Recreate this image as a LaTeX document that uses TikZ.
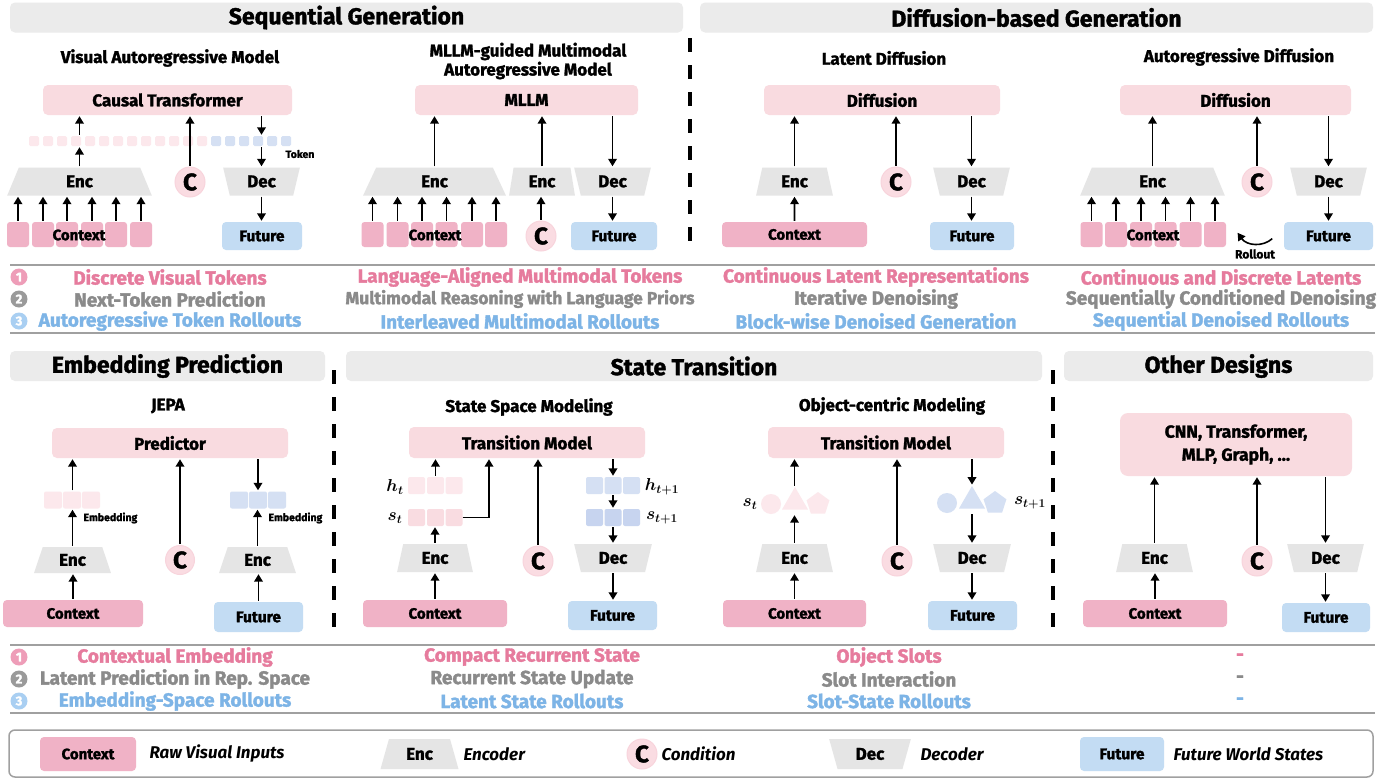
\documentclass[tikz,border=0pt]{standalone}
\usepackage{fontspec}
\setmainfont{Fira Sans}[BoldFeatures={FakeBold=1.6}]
\usetikzlibrary{arrows.meta,shapes.geometric,positioning}
\definecolor{hdrgray}{HTML}{EBEBEB}
\definecolor{modelpink}{HTML}{F9DBE0}
\definecolor{ctxpink}{HTML}{F0B2C6}
\definecolor{futblue}{HTML}{C3DCF3}
\definecolor{encgray}{HTML}{E5E5E5}
\definecolor{cpink}{HTML}{FADCE2}
\definecolor{tokpink}{HTML}{FCE8EC}
\definecolor{tokblue}{HTML}{D5E0F3}
\definecolor{sblue}{HTML}{C7D4EF}
\definecolor{spink}{HTML}{F9DCE1}
\definecolor{txtpink}{HTML}{E67B9D}
\definecolor{txtgray}{HTML}{8A8A8A}
\definecolor{txtblue}{HTML}{7DB4E6}
\definecolor{numpink}{HTML}{EE9DB8}
\definecolor{numgray}{HTML}{9A9A9A}
\definecolor{numblue}{HTML}{A9CFF2}
\definecolor{linegray}{HTML}{A0A0A0}
\begin{document}
\begin{tikzpicture}[x=1pt,y=-1pt,
  arr/.style={-{Triangle[length=7.5pt,width=8.5pt]},line width=1.9pt,shorten <=1pt,shorten >=1pt},
  hdr/.style={fill=hdrgray,rounded corners=5pt,minimum height=30pt,inner sep=0,font=\fontsize{23}{27}\selectfont\bfseries},
  sub/.style={font=\fontsize{17}{19}\selectfont\bfseries,align=center},
  model/.style={fill=modelpink,rounded corners=5pt,minimum height=30pt,inner sep=0,font=\fontsize{17}{20}\selectfont\bfseries},
  ctx/.style={fill=ctxpink,rounded corners=4pt,minimum height=27pt,inner sep=0,font=\fontsize{15}{17}\selectfont\bfseries},
  ctxsq/.style={fill=ctxpink,rounded corners=3pt,minimum width=22pt,minimum height=25pt,inner sep=0},
  fut/.style={fill=futblue,rounded corners=4pt,minimum height=28pt,inner sep=0,font=\fontsize{15.5}{18}\selectfont\bfseries},
  enc/.style={trapezium,trapezium stretches=true,trapezium angle=78,fill=encgray,minimum height=28pt,inner sep=0,font=\fontsize{17}{19}\selectfont\bfseries},
  dec/.style={enc,shape border rotate=180},
  cond/.style={circle,fill=cpink,draw=cpink!80!ctxpink,line width=1pt,minimum size=30pt,inner sep=0,font=\fontsize{24}{26}\selectfont\bfseries},
  tok/.style={fill=#1,rounded corners=1.5pt,minimum size=10pt,inner sep=0},
  emb/.style={fill=#1,rounded corners=2pt,minimum width=18pt,minimum height=17pt,inner sep=0},
  small/.style={font=\fontsize{10.5}{12}\selectfont\bfseries},
  mlab/.style={font=\fontsize{18}{20}\selectfont\boldmath},
  lg/.style={font=\fontsize{19}{21}\selectfont\bfseries},
  num/.style={circle,fill=#1,text=white,minimum size=17pt,inner sep=0,font=\fontsize{13}{14}\selectfont\bfseries},
  itl/.style={anchor=west,font=\fontsize{17}{19}\selectfont\bfseries\itshape},
  sep/.style={linegray,line width=1.5pt},
  vdash/.style={line width=4pt,dash pattern=on 14pt off 13pt}]
\fill[white] (0,0) rectangle (1395,779);
\useasboundingbox (0,0) rectangle (1395,779);

% headers top
\node[hdr,minimum width=673pt] (hseq) at (346.5,17.5) {Sequential Generation};
\node[hdr,minimum width=673pt] (hdif) at (1036.5,17.5) {Diffusion-based Generation};
\draw[vdash] (690,38) -- (690,252);

\node[sub] (s1) at (170,58) {Visual Autoregressive Model};
\node[sub] (s2) at (528,61) {MLLM-guided Multimodal\\Autoregressive Model};
\node[sub] (s3) at (884,58) {Latent Diffusion};
\node[sub] (s4) at (1239,57) {Autoregressive Diffusion};

% visual autoregressive model
\node[model,minimum width=249pt] (ct) at (167.5,100) {Causal Transformer};
\foreach \k in {0,...,18}{
  \ifnum\k<13 \def\tc{tokpink}\else\def\tc{tokblue}\fi
  \node[tok=\tc] (t\k) at (34+14*\k,141) {};
}
\node[small] (tkn) at (300,154) {Token};
\node[enc,minimum width=145pt] (enc1) at (79.5,181.5) {Enc};
\node[cond] (c1) at (190,182) {C};
\node[dec,minimum width=77pt,trapezium angle=76] (dec1) at (261.5,181.5) {Dec};
\foreach \i/\qx in {1/18,2/43,3/67,4/92,5/116,6/141}{
  \node[ctxsq] (qa\i) at (\qx,234.5) {};
  \draw[arr] (qa\i.north) -- (qa\i.north |- enc1.south);
}
\node[font=\fontsize{15}{17}\selectfont\bfseries] (cx1) at (79,235) {Context};
\node[fut,minimum width=80pt] (fu1) at (262,236) {Future};
\draw[arr] (enc1.north) -- (enc1.north |- t3.south);
\draw[arr] (enc1.north |- t3.north) -- (enc1.north |- ct.south);
\draw[arr] (c1.north) -- (c1.north |- ct.south);
\draw[arr] (dec1.north |- ct.south) -- (dec1.north |- t16.north);
\draw[arr] (dec1.north |- t16.south) -- (dec1.north);
\draw[arr] (dec1.south) -- (dec1.south |- fu1.north);

% mllm-guided
\node[model,minimum width=223pt] (mllm) at (526.5,100) {MLLM};
\node[enc,minimum width=143pt,trapezium angle=76] (enc2) at (434.5,181.5) {Enc};
\node[enc,minimum width=66pt,trapezium angle=80] (enc2b) at (542,181.5) {Enc};
\node[dec,minimum width=77pt,trapezium angle=76] (dec2) at (612.5,181.5) {Dec};
\foreach \i/\qx in {1/372.5,2/397.5,3/422,4/446.5,5/472,6/496}{
  \node[ctxsq] (qb\i) at (\qx,234.5) {};
  \draw[arr] (qb\i.north) -- (qb\i.north |- enc2.south);
}
\node[font=\fontsize{15}{17}\selectfont\bfseries] (cx2) at (435,235) {Context};
\node[cond] (c2) at (541,236) {C};
\node[fut,minimum width=86pt] (fu2) at (614,236) {Future};
\draw[arr] (enc2.north) -- (enc2.north |- mllm.south);
\draw[arr] (enc2b.north) -- (enc2b.north |- mllm.south);
\draw[arr] (c2.north) -- (c2.north |- enc2b.south);
\draw[arr] (dec2.north |- mllm.south) -- (dec2.north);
\draw[arr] (dec2.south) -- (dec2.south |- fu2.north);

% latent diffusion
\node[model,minimum width=236pt] (dif3) at (882,100) {Diffusion};
\node[enc,minimum width=77pt] (enc3) at (794.5,181.5) {Enc};
\node[cond] (c3) at (896,182) {C};
\node[dec,minimum width=77pt,trapezium angle=76] (dec3) at (971.5,181.5) {Dec};
\node[ctx,minimum width=145pt,minimum height=25pt] (ctx3) at (794.5,234.5) {Context};
\node[fut,minimum width=84pt] (fu3) at (972,236) {Future};
\draw[arr] (ctx3.north) -- (enc3.south);
\draw[arr] (enc3.north) -- (enc3.north |- dif3.south);
\draw[arr] (c3.north) -- (c3.north |- dif3.south);
\draw[arr] (dec3.north |- dif3.south) -- (dec3.north);
\draw[arr] (dec3.south) -- (dec3.south |- fu3.north);

% autoregressive diffusion
\node[model,minimum width=231pt] (dif4) at (1235.5,100) {Diffusion};
\node[enc,minimum width=145pt] (enc4) at (1152.5,181.5) {Enc};
\node[cond] (c4) at (1257,182) {C};
\node[dec,minimum width=77pt,trapezium angle=76] (dec4) at (1328.5,181.5) {Dec};
\foreach \i/\qx in {1/1091.5,2/1116,3/1141,4/1165.5,5/1190.5,6/1215}{
  \node[ctxsq] (qd\i) at (\qx,234.5) {};
  \draw[arr] (qd\i.north) -- (qd\i.north |- enc4.south);
}
\node[font=\fontsize{15}{17}\selectfont\bfseries] (cx4) at (1153,235) {Context};
\node[fut,minimum width=89pt] (fu4) at (1328.5,236) {Future};
\draw[arr] (enc4.north) -- (enc4.north |- dif4.south);
\draw[arr] (c4.north) -- (c4.north |- dif4.south);
\draw[arr] (dec4.north |- dif4.south) -- (dec4.north);
\draw[arr] (dec4.south) -- (dec4.south |- fu4.north);
\coordinate (ra) at (1273,238);
\coordinate (rb) at (1237,232);
\draw[arr,line width=1.6pt] (ra) .. controls (1263,247) and (1247,246) .. (rb);
\node[font=\fontsize{12}{13}\selectfont\bfseries] (rlt) at (1255,254) {Rollout};

% legend top
\draw[sep] (10,265) -- (1375,265);
\draw[sep] (10,333) -- (1375,333);
\foreach \n/\cc/\yy in {1/numpink/277,2/numgray/299,3/numblue/321}
  \node[num=\cc] (na\n) at (19,\yy) {\n};
\foreach \cx/\ta/\tb/\tc [count=\j] in {170/Discrete Visual Tokens/Next-Token Prediction/Autoregressive Token Rollouts,
    520/Language-Aligned Multimodal Tokens/{\fontsize{17.5}{20}\selectfont Multimodal Reasoning with Language Priors}/Interleaved Multimodal Rollouts,
    876/Continuous Latent Representations/Iterative Denoising/Block-wise Denoised Generation,
    1221/Continuous and Discrete Latents/Sequentially Conditioned Denoising/Sequential Denoised Rollouts}{
  \node[lg,text=txtpink] (la\j) at (\cx,277) {\ta};
  \node[lg,text=txtgray] (lb\j) at (\cx,299) {\tb};
  \node[lg,text=txtblue] (lc\j) at (\cx,321) {\tc};
}

% headers bottom
\node[hdr,minimum width=315pt] (hemb) at (167.5,366) {Embedding Prediction};
\node[hdr,minimum width=696pt] (hst) at (694,366) {State Transition};
\node[hdr,minimum width=309pt] (hoth) at (1218.5,366) {Other Designs};
\draw[vdash] (334,370) -- (334,632);
\draw[vdash] (1053,370) -- (1053,632);

\node[sub] (s5) at (168,406) {JEPA};
\node[sub] (s6) at (529,407) {State Space Modeling};
\node[sub] (s7) at (892,406) {Object-centric Modeling};

% jepa
\node[model,minimum width=236pt] (pred) at (170,443) {Predictor};
\node[enc,minimum width=77pt,minimum height=26pt,trapezium angle=72] (enc5) at (72.5,560) {Enc};
\node[enc,minimum width=77pt,minimum height=26pt,trapezium angle=72] (enc5b) at (257.5,560) {Enc};
\node[cond,minimum size=29pt] (c5) at (180,560) {C};
\foreach \i/\ex in {1/53,2/72,3/91}
  \node[emb=tokpink] (ea\i) at (\ex,500) {};
\foreach \i/\ex in {1/239,2/258,3/277}
  \node[emb=tokblue] (eb\i) at (\ex,500) {};
\node[small,anchor=west] (le1) at (80,518) {Embedding};
\node[small,anchor=west] (le2) at (265,518) {Embedding};
\node[ctx,minimum width=140pt] (ctx5) at (73,613.5) {Context};
\node[fut,minimum width=89pt,minimum height=30pt] (fu5) at (258.5,617) {Future};
\draw[arr] (ctx5.north) -- (ctx5.north |- enc5.south);
\draw[arr] (enc5.north) -- (enc5.north |- ea2.south);
\draw[arr] (enc5.north |- ea2.north) -- (enc5.north |- pred.south);
\draw[arr] (c5.north) -- (c5.north |- pred.south);
\draw[arr] (eb2.north |- pred.south) -- (eb2.north);
\draw[arr] (enc5b.north) -- (enc5b.north |- eb2.south);
\draw[arr] (fu5.north) -- (fu5.north |- enc5b.south);

% state space modeling
\node[model,minimum width=236pt,minimum height=31pt] (tm6) at (527,442.5) {Transition Model};
\foreach \i/\ex in {1/416.5,2/435.5,3/454}{
  \node[emb=tokpink,minimum width=17pt] (ha\i) at (\ex,485.5) {};
  \node[emb=spink,minimum width=17pt] (sa\i) at (\ex,517.5) {};
}
\foreach \i/\ex in {1/594.5,2/613,3/631.5}{
  \node[emb=tokblue,minimum width=17pt] (hb\i) at (\ex,485.5) {};
  \node[emb=sblue,minimum width=17pt] (sb\i) at (\ex,517.5) {};
}
\node[mlab] (lh1) at (395,487) {$h_t$};
\node[mlab] (ls1) at (395,518) {$s_t$};
\node[mlab] (lh2) at (662,487) {$h_{t+1}$};
\node[mlab] (ls2) at (662,518) {$s_{t+1}$};
\node[enc,minimum width=76pt] (enc6) at (435,558) {Enc};
\node[cond] (c6) at (538,561) {C};
\node[dec,minimum width=78pt,trapezium angle=76] (dec6) at (613,558) {Dec};
\node[ctx,minimum width=144pt] (ctx6) at (435,613.5) {Context};
\node[fut,minimum width=89pt,minimum height=29pt] (fu6) at (612.5,615.5) {Future};
\draw[arr] (ctx6.north) -- (ctx6.north |- enc6.south);
\draw[arr] (enc6.north) -- (enc6.north |- sa2.south);
\draw[arr] (ha2.north) -- (ha2.north |- tm6.south);
\draw[arr,shorten <=0pt] (sa3.east) -| ([xshift=-38pt]tm6.south);
\draw[arr] (c6.north) -- (c6.north |- tm6.south);
\draw[arr] (hb2.north |- tm6.south) -- (hb2.north);
\draw[arr] (hb2.south) -- (sb2.north);
\draw[arr] (sb2.south) -- (sb2.south |- dec6.north);
\draw[arr] (dec6.south) -- (dec6.south |- fu6.north);

% object-centric modeling
\node[model,minimum width=236pt,minimum height=31pt] (tm7) at (886,442.5) {Transition Model};
\node[circle,fill=tokpink,minimum size=20pt,inner sep=0] (oa1) at (771,504) {};
\node[regular polygon,regular polygon sides=3,fill=tokpink,minimum size=30pt,inner sep=0] (oa2) at (795,502) {};
\node[regular polygon,regular polygon sides=5,fill=tokpink,minimum size=24pt,inner sep=0] (oa3) at (818,504) {};
\node[circle,fill=tokblue,minimum size=20pt,inner sep=0] (ob1) at (947,503) {};
\node[regular polygon,regular polygon sides=3,fill=tokblue,minimum size=30pt,inner sep=0] (ob2) at (972,501) {};
\node[regular polygon,regular polygon sides=5,fill=tokblue,minimum size=24pt,inner sep=0] (ob3) at (995,503) {};
\node[mlab] (ls3) at (750,504) {$s_t$};
\node[mlab] (ls4) at (1030,503) {$s_{t+1}$};
\node[enc,minimum width=77pt] (enc7) at (794.5,558) {Enc};
\node[cond] (c7) at (897,561) {C};
\node[dec,minimum width=78pt,trapezium angle=76] (dec7) at (972,558) {Dec};
\node[ctx,minimum width=143pt] (ctx7) at (794.5,613.5) {Context};
\node[fut,minimum width=89pt,minimum height=29pt] (fu7) at (972.5,615.5) {Future};
\draw[arr] (ctx7.north) -- (ctx7.north |- enc7.south);
\draw[arr] (enc7.north) -- (enc7.north |- oa1.south);
\draw[arr] (enc7.north |- oa2.north) -- (enc7.north |- tm7.south);
\draw[arr] (c7.north) -- (c7.north |- tm7.south);
\draw[arr] (dec7.north |- tm7.south) -- (dec7.north |- ob2.north);
\draw[arr] (dec7.north |- ob1.south) -- (dec7.north);
\draw[arr] (dec7.south) -- (dec7.south |- fu7.north);

% other designs
\node[model,minimum width=232pt,minimum height=63pt,align=center,rounded corners=8pt,font=\fontsize{17.5}{23}\selectfont\bfseries] (oth) at (1236,444.5) {CNN, Transformer,\\MLP, Graph, ...};
\node[enc,minimum width=77pt] (enc8) at (1154.5,558) {Enc};
\node[cond] (c8) at (1257,561) {C};
\node[dec,minimum width=77pt,trapezium angle=76] (dec8) at (1325.5,558) {Dec};
\node[ctx,minimum width=144pt] (ctx8) at (1155,613.5) {Context};
\node[fut,minimum width=88pt,minimum height=29pt] (fu8) at (1326,617.5) {Future};
\draw[arr] (ctx8.north) -- (ctx8.north |- enc8.south);
\draw[arr] (enc8.north) -- (enc8.north |- oth.south);
\draw[arr] (c8.north) -- (c8.north |- oth.south);
\draw[arr] (dec8.north |- oth.south) -- (dec8.north);
\draw[arr] (dec8.south) -- (dec8.south |- fu8.north);

% legend bottom
\draw[sep] (10,645) -- (1375,645);
\draw[sep] (10,713) -- (1375,713);
\foreach \n/\cc/\yy in {1/numpink/657,2/numgray/679,3/numblue/701}
  \node[num=\cc] (nb\n) at (19,\yy) {\n};
\foreach \cx/\ta/\tb/\tc [count=\j] in {175/Contextual Embedding/Latent Prediction in Rep. Space/Embedding-Space Rollouts,
    532/Compact Recurrent State/Recurrent State Update/Latent State Rollouts,
    889/Object Slots/Slot Interaction/Slot-State Rollouts,
    1240/-/-/-}{
  \node[lg,text=txtpink] (ld\j) at (\cx,657) {\ta};
  \node[lg,text=txtgray] (le\j) at (\cx,679) {\tb};
  \node[lg,text=txtblue] (lf\j) at (\cx,701) {\tc};
}

% key
\draw[linegray,line width=1.5pt,rounded corners=6pt] (9,730) rectangle (1373,777);
\node[ctx,minimum width=96pt,minimum height=34pt] (kctx) at (88,754) {Context};
\node[itl] (kt1) at (146,754) {Raw Visual Inputs};
\node[enc,minimum width=78pt,minimum height=30pt,trapezium angle=73] (kenc) at (419.5,754) {Enc};
\node[itl] (kt2) at (460,754) {Encoder};
\node[cond] (kc) at (642,754) {C};
\node[itl] (kt3) at (658,754) {Condition};
\node[dec,minimum width=82pt,minimum height=30pt,trapezium angle=73] (kdec) at (870,754) {Dec};
\node[itl] (kt4) at (917,754) {Decoder};
\node[fut,minimum width=84pt,minimum height=34pt] (kfu) at (1122,754) {Future};
\node[itl] (kt5) at (1170,754) {Future World States};
\end{tikzpicture}
\end{document}
